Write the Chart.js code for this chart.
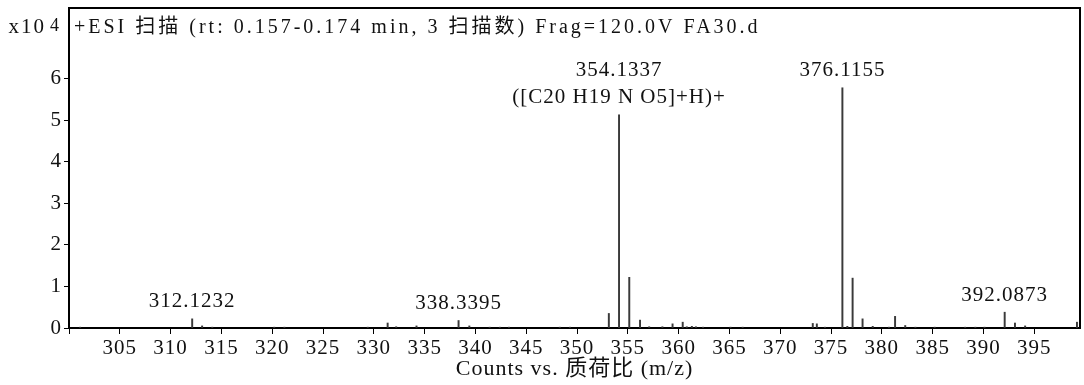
<!DOCTYPE html>
<html>
<head>
<meta charset="utf-8">
<script src="https://cdn.jsdelivr.net/npm/chart.js@4/dist/chart.umd.min.js"></script>
<style>
  html, body { margin: 0; padding: 0; background: #fff; }
</style>
</head>
<body>
<canvas id="spectrum" width="1084" height="385"></canvas>
<script>
// peak list, counts in units of 10^4
const mzValues = [301.1, 312.1232, 313.1, 314.1, 320.2, 321.2, 329.4, 331.36, 332.2, 334.2,
  338.3395, 339.4, 341.4, 342.4, 343.3, 348.3, 349.3, 353.13, 354.1337, 355.14,
  356.2, 357.1, 358.4, 359.4, 360.4, 360.8, 361.3, 361.7, 362.4, 365.1,
  366.3, 373.2, 373.6, 374.4, 376.1155, 376.6, 377.12, 378.1, 379.1, 380.7,
  381.3, 382.3, 383.3, 385.2, 388.2, 389.2, 390.1, 392.0873, 393.1, 394.1, 399.2];
const counts = [0.02, 0.22, 0.05, 0.02, 0.02, 0.02, 0.02, 0.12, 0.03, 0.05,
  0.18, 0.05, 0.02, 0.02, 0.02, 0.02, 0.02, 0.35, 5.13, 1.22,
  0.19, 0.03, 0.03, 0.10, 0.14, 0.03, 0.04, 0.03, 0.02, 0.02,
  0.02, 0.11, 0.10, 0.02, 5.78, 0.04, 1.20, 0.22, 0.04, 0.02,
  0.28, 0.06, 0.02, 0.02, 0.02, 0.02, 0.02, 0.38, 0.12, 0.05, 0.14];

const xTicks = [300, 305, 310, 315, 320, 325, 330, 335, 340, 345, 350,
  355, 360, 365, 370, 375, 380, 385, 390, 395];
const yTicks = [0, 1, 2, 3, 4, 5, 6];

const labelMz = [312.1232, 338.3395, 354.1337, 376.1155, 392.0873];
const labelLines = [['312.1232'], ['338.3395'], ['354.1337', '([C20 H19 N O5]+H)+'], ['376.1155'], ['392.0873']];

const titleText = '+ESI 扫描 (rt: 0.157-0.174 min, 3 扫描数) Frag=120.0V FA30.d';
const xTitle = 'Counts vs. 质荷比 (m/z)';

const fontFamily = "'Liberation Serif', 'Noto Sans CJK SC', serif";

// stretch glyphs a little, the original uses a wide fixed-pitch font
const spacing = {
  id: 'spacing',
  beforeUpdate(chart) { chart.ctx.letterSpacing = '1px'; },
  beforeDraw(chart) { chart.ctx.letterSpacing = '1px'; }
};

const frame = {
  id: 'frame',
  afterDraw(chart) {
    const ctx = chart.ctx;
    const a = chart.chartArea;
    const sx = chart.scales.x, sy = chart.scales.y;
    ctx.save();
    ctx.strokeStyle = '#000';
    ctx.lineWidth = 2;
    ctx.beginPath();
    ctx.moveTo(a.left, a.top);
    ctx.lineTo(a.right, a.top);
    ctx.lineTo(a.right, a.bottom);
    ctx.stroke();

    ctx.fillStyle = '#111';
    ctx.textBaseline = 'alphabetic';
    ctx.font = '20px ' + fontFamily;
    ctx.letterSpacing = '3px';
    ctx.textAlign = 'left';
    ctx.fillText(titleText, a.left + 5, a.top + 25);
    ctx.font = '21px ' + fontFamily;
    ctx.letterSpacing = '2px';
    ctx.textAlign = 'right';
    ctx.fillText('x10', a.left - 23, a.top + 25);
    ctx.font = '18px ' + fontFamily;
    ctx.letterSpacing = '0px';
    ctx.textAlign = 'left';
    ctx.fillText('4', a.left - 19, a.top + 23);

    ctx.font = '21px ' + fontFamily;
    ctx.letterSpacing = '1px';
    ctx.textAlign = 'center';
    ctx.textBaseline = 'middle';
    labelMz.forEach(function(mz, i) {
      const k = mzValues.indexOf(mz);
      const x = sx.getPixelForValue(mz);
      let y = sy.getPixelForValue(counts[k]) - 17;
      const lines = labelLines[i];
      for (let j = lines.length - 1; j >= 0; j--) {
        ctx.fillText(lines[j], x, y);
        y -= 27;
      }
    });
    ctx.restore();
  }
};

const points = mzValues.map(function(m, i) { return {x: m, y: counts[i]}; });

new Chart(document.getElementById('spectrum'), {
  type: 'bar',
  data: {
    datasets: [{
      data: points,
      backgroundColor: '#3a3a3a',
      borderWidth: 0,
      barThickness: 1.3
    }]
  },
  plugins: [spacing, frame],
  options: {
    responsive: false,
    devicePixelRatio: 1,
    animation: false,
    layout: { padding: { top: 8, right: 4, left: 0, bottom: 0 } },
    plugins: {
      legend: { display: false },
      tooltip: { enabled: false }
    },
    scales: {
      x: {
        type: 'linear',
        min: 300,
        max: 399.5,
        offset: false,
        afterBuildTicks: function(axis) {
          axis.ticks = xTicks.map(function(v) { return {value: v}; });
        },
        afterFit: function(axis) {
          axis.height = 57;
          axis.paddingLeft = 0;
          axis.paddingRight = 0;
        },
        grid: { offset: false, drawOnChartArea: false, drawTicks: true, tickLength: 6, color: '#000', lineWidth: 1 },
        border: { display: true, color: '#000', width: 2 },
        ticks: {
          color: '#111',
          padding: 2,
          maxRotation: 0,
          autoSkip: false,
          font: { family: fontFamily, size: 21 },
          callback: function(v) { return v === 300 ? '' : v; }
        },
        title: {
          display: true,
          text: xTitle,
          color: '#111',
          font: { family: fontFamily, size: 22 },
          padding: { top: 0, bottom: 3 }
        }
      },
      y: {
        min: 0,
        max: 7.7,
        afterBuildTicks: function(axis) {
          axis.ticks = yTicks.map(function(v) { return {value: v}; });
        },
        afterFit: function(axis) {
          axis.width = 69;
          axis.paddingTop = 0;
          axis.paddingBottom = 0;
        },
        grid: { drawOnChartArea: false, drawTicks: true, tickLength: 5, color: '#000', lineWidth: 1 },
        border: { display: true, color: '#000', width: 2 },
        ticks: {
          color: '#111',
          padding: 2,
          font: { family: fontFamily, size: 21 }
        }
      }
    }
  }
});
</script>
</body>
</html>
